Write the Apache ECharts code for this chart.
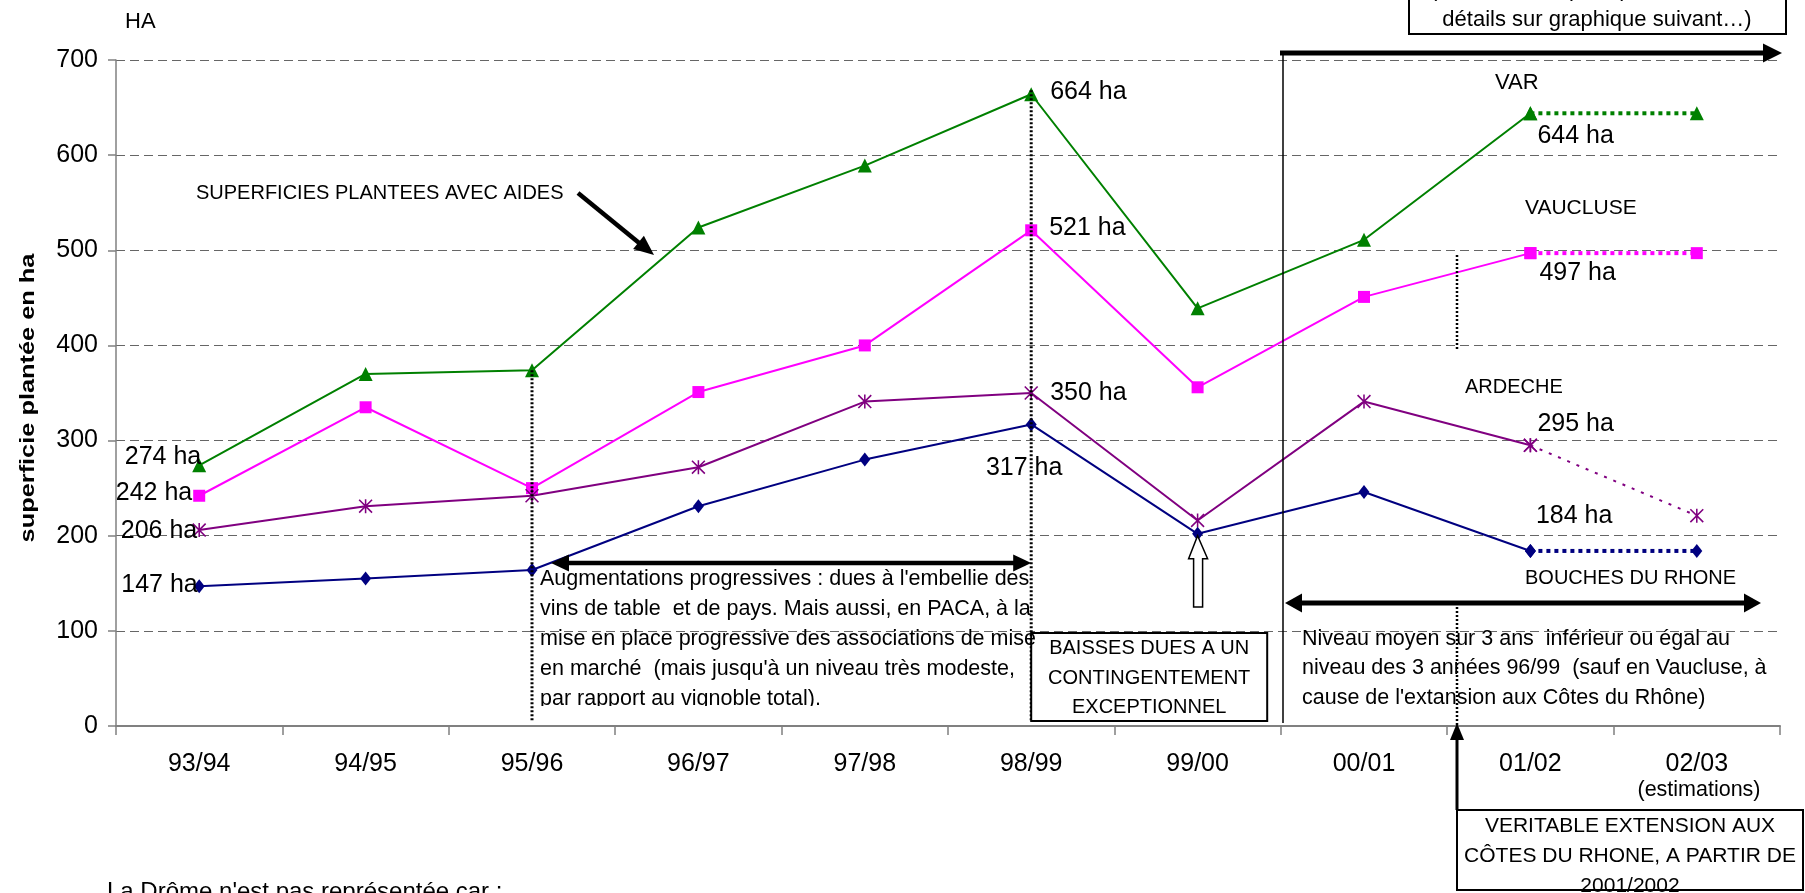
<!DOCTYPE html>
<html><head><meta charset="utf-8">
<script src="https://cdn.jsdelivr.net/npm/echarts@6/dist/echarts.min.js"></script>
<style>html,body{margin:0;padding:0;background:#fff}#c{width:1805px;height:893px}</style>
</head><body><div id="c"></div>
<script>
// ---- data ----
const categories = ['93/94','94/95','95/96','96/97','97/98','98/99','99/00','00/01','01/02','02/03'];
const varValues      = [274, 370, 374, 524, 589, 664, 439, 511, 644, 644];
const vaucluseValues = [242, 335, 250, 351, 400, 521, 356, 451, 497, 497];
const ardecheValues  = [206, 231, 242, 272, 341, 350, 216, 341, 295, 221];
const bouchesValues  = [147, 155, 164, 231, 280, 317, 202, 246, 184, 184];
const yTickValues = [0, 100, 200, 300, 400, 500, 600, 700];

const FONT = '"Liberation Sans", Arial, sans-serif';
const ASTERISK = 'path://M0 0.8L0.8 0L10 9.2L9.2 10Z M9.2 0L10 0.8L0.8 10L0 9.2Z M4.45 0L5.55 0L5.55 10L4.45 10Z';
const LAST_SOLID = 8;

// label placement (style only) for labelled points
const labelStyles = {
  var:      {0:{position:'left',distance:0,offset:[9,-8]}, 5:{position:'right',distance:12,offset:[0,-2]}, 8:{position:'right',distance:0,offset:[0,23]}},
  vaucluse: {0:{position:'left',distance:0,offset:[-1,-3]}, 5:{position:'right',distance:12,offset:[0,-2]}, 8:{position:'right',distance:3,offset:[0,20]}},
  ardeche:  {0:{position:'left',distance:0,offset:[5,1]}, 5:{position:'right',distance:12,offset:[0,0]}, 8:{position:'right',distance:0,offset:[0,-21]}},
  bouches:  {0:{position:'left',distance:0,offset:[4,-1]}, 5:{position:'bottom',distance:24,offset:[-7,0]}, 8:{position:'right',distance:0,offset:[0,-35]}}
};

function makeSeries(key, values, color, symbol, size, dotWidth, dash) {
  const lbl = labelStyles[key];
  const solid = values.map((v, i) => {
    if (i > LAST_SOLID) return '-';
    if (lbl[i]) return {value: v, label: Object.assign({show: true, formatter: v + ' ha', color: '#000', fontSize: 25, fontFamily: FONT}, lbl[i])};
    return v;
  });
  const dotted = values.map((v, i) => i >= LAST_SOLID ? v : '-');
  return [
    {type: 'line', name: key, data: solid, symbol: symbol, symbolSize: size, showAllSymbol: true,
     lineStyle: {color: color, width: 2}, itemStyle: {color: color}, emphasis: {disabled: true}, animation: false, z: 3},
    {type: 'line', name: key + '_est', data: dotted, symbol: symbol, symbolSize: size,
     lineStyle: {color: color, width: dotWidth, type: dash}, itemStyle: {color: color}, emphasis: {disabled: true}, animation: false, z: 3}
  ];
}

const series = [].concat(
  makeSeries('var', varValues, '#008000', 'triangle', 14, 4, [4, 4]),
  makeSeries('vaucluse', vaucluseValues, '#FF00FF', 'rect', 12, 4, [4, 4]),
  makeSeries('ardeche', ardecheValues, '#800080', ASTERISK, 14, 2, [3, 7]),
  makeSeries('bouches', bouchesValues, '#000080', 'diamond', [11, 14], 4, [4, 4])
);

const chart = echarts.init(document.getElementById('c'), null, {renderer: 'canvas'});
chart.setOption({
  animation: false,
  backgroundColor: '#fff',
  textStyle: {fontFamily: FONT},
  grid: {left: 116, right: 25, top: 60, bottom: 167, containLabel: false},
  xAxis: {
    type: 'category', data: categories, boundaryGap: true,
    axisLine: {lineStyle: {color: '#808080', width: 2}},
    axisTick: {show: true, length: 9, lineStyle: {color: '#808080', width: 1.5}},
    axisLabel: {color: '#000', fontSize: 25, margin: 26, fontFamily: FONT},
    splitLine: {show: false}
  },
  yAxis: {
    type: 'value', min: 0, max: 700, interval: 100,
    axisLine: {show: true, lineStyle: {color: '#808080', width: 1.5}},
    axisTick: {show: true, length: 8, lineStyle: {color: '#808080', width: 1.5}},
    axisLabel: {color: '#000', fontSize: 25, margin: 18, fontFamily: FONT,
      formatter: v => yTickValues.indexOf(v) >= 0 ? String(v) : ''},
    splitLine: {show: true, lineStyle: {color: '#666', width: 1, type: [9, 5]}}
  },
  series: series
});

// ---- annotations ----
function arrowEls(x1, y1, x2, y2, w, hl, hw, both) {
  const dx = x2 - x1, dy = y2 - y1, L = Math.sqrt(dx*dx + dy*dy);
  const ux = dx / L, uy = dy / L, nx = -uy, ny = ux;
  const els = [];
  const sx = both ? x1 + ux*hl*0.8 : x1, sy = both ? y1 + uy*hl*0.8 : y1;
  const ex = x2 - ux*hl*0.8, ey = y2 - uy*hl*0.8;
  els.push({type: 'line', shape: {x1: sx, y1: sy, x2: ex, y2: ey}, style: {stroke: '#000', lineWidth: w}, z: 10});
  function head(tx, ty, dirx, diry) {
    const bx = tx - dirx*hl, by = ty - diry*hl;
    return {type: 'polygon', shape: {points: [[tx, ty], [bx + nx*hw/2, by + ny*hw/2], [bx - nx*hw/2, by - ny*hw/2]]},
      style: {fill: '#000'}, z: 10};
  }
  els.push(head(x2, y2, ux, uy));
  if (both) els.push(head(x1, y1, -ux, -uy));
  return els;
}
function txt(x, y, text, size, align, extra) {
  return Object.assign({type: 'text', x: x, y: y, z: 12,
    style: {text: text, font: size + 'px ' + FONT, fill: '#000',
      textAlign: align || 'left', align: align || 'left', textVerticalAlign: 'middle', verticalAlign: 'middle'}}, extra || {});
}
function block(x, yTop, text, size, align, lh) {
  return {type: 'text', x: x, y: yTop, z: 12,
    style: {text: text, font: size + 'px ' + FONT, fill: '#000', lineHeight: lh,
      textAlign: align, align: align, textVerticalAlign: 'top', verticalAlign: 'top'}};
}
function dotted(x, y1, y2, w) {
  return {type: 'line', shape: {x1: x, y1: y1, x2: x, y2: y2}, style: {stroke: '#000', lineWidth: w || 3, lineDash: [2, 2]}, z: 10};
}

const px = (ci, v) => chart.convertToPixel({gridIndex: 0}, [ci, v]);
const yZero = px(0, 0)[1];
const p9596 = px(2, varValues[2]);
const p9899 = px(5, varValues[5]);
const p9900 = px(6, bouchesValues[6]);
const xMid0102 = 1457;

let g = [];
// y-axis title
g.push({type: 'text', x: 29, y: 398, rotation: Math.PI / 2, scaleX: 1.3, z: 12,
  style: {text: 'superficie plantée en ha', font: 'bold 19.5px ' + FONT, fill: '#000',
    textAlign: 'center', align: 'center', textVerticalAlign: 'middle', verticalAlign: 'middle'}});
g.push(txt(125, 22, 'HA', 22));
g.push(txt(196, 193, 'SUPERFICIES PLANTEES AVEC AIDES', 20));
g = g.concat(arrowEls(578, 193, 654, 255, 4.5, 20, 17, false));
g.push(dotted(p9596[0], p9596[1], yZero - 4));
g.push(dotted(p9899[0], p9899[1] - 4, yZero - 4));
g = g.concat(arrowEls(551, 563, p9899[0], 563, 4.5, 18, 17, true));
g.push(block(540, 564, "Augmentations progressives : dues à l'embellie des\nvins de table  et de pays. Mais aussi, en PACA, à la\nmise en place progressive des associations de mise\nen marché  (mais jusqu'à un niveau très modeste,\npar rapport au vignoble total).", 21.5, 'left', 30));
g.push({type: 'rect', shape: {x: 536, y: 706, width: p9899[0] - 540, height: 18}, style: {fill: '#fff'}, z: 13});
// Baisses box
g.push({type: 'rect', shape: {x: p9899[0], y: 633, width: 236, height: 88}, style: {fill: '#fff', stroke: '#000', lineWidth: 2}, z: 11});
g.push(block(p9899[0] + 118, 634, 'BAISSES DUES A UN\nCONTINGENTEMENT\nEXCEPTIONNEL', 20, 'center', 29.5));
// hollow up arrow
const ax = p9900[0], at = p9900[1] + 2;
g.push({type: 'polygon', shape: {points: [[ax, at], [ax + 10, at + 23], [ax + 5, at + 23], [ax + 5, 607], [ax - 4, 607], [ax - 4, at + 23], [ax - 9, at + 23]]},
  style: {fill: '#fff', stroke: '#000', lineWidth: 1.5}, z: 11});
// right region
g.push({type: 'line', shape: {x1: 1283, y1: 53, x2: 1283, y2: 723}, style: {stroke: '#000', lineWidth: 1.5}, z: 10});
g = g.concat(arrowEls(1280, 53, 1782, 53, 5, 19, 19, false));
g.push({type: 'rect', shape: {x: 1409, y: -40, width: 377, height: 74}, style: {fill: '#fff', stroke: '#000', lineWidth: 2}, z: 11});
g.push(txt(1430, -10, '(en Vaucluse, pour plus de', 22, 'left'));
g.push(txt(1597, 20, 'détails sur graphique suivant…)', 22, 'center'));
g.push(txt(1495, 83, 'VAR', 22));
g.push(txt(1525, 208, 'VAUCLUSE', 21));
g.push(txt(1465, 387, 'ARDECHE', 20));
g.push(txt(1525, 578, 'BOUCHES DU RHONE', 20));
g.push(dotted(xMid0102, 255, 349, 2.5));
g.push(dotted(xMid0102, 603, yZero, 2.5));
g = g.concat(arrowEls(1285, 603, 1761, 603, 5, 17, 19, true));
g.push(block(1302, 624, "Niveau moyen sur 3 ans  inférieur ou égal au\nniveau des 3 années 96/99  (sauf en Vaucluse, à\ncause de l'extansion aux Côtes du Rhône)", 21.5, 'left', 29.5));
g = g.concat(arrowEls(xMid0102, 810, xMid0102, 723, 3, 17, 14, false));
g.push({type: 'rect', shape: {x: 1457, y: 810, width: 346, height: 80}, style: {fill: '#fff', stroke: '#000', lineWidth: 2}, z: 11});
g.push(block(1630, 811, 'VERITABLE EXTENSION AUX\nCÔTES DU RHONE, A PARTIR DE\n2001/2002', 21, 'center', 30));
g.push(txt(1699, 790, '(estimations)', 21.5, 'center'));
g.push(txt(107, 892, "La Drôme n'est pas représentée car :", 24, 'left'));

chart.setOption({graphic: {elements: g}});
</script>
</body></html>
